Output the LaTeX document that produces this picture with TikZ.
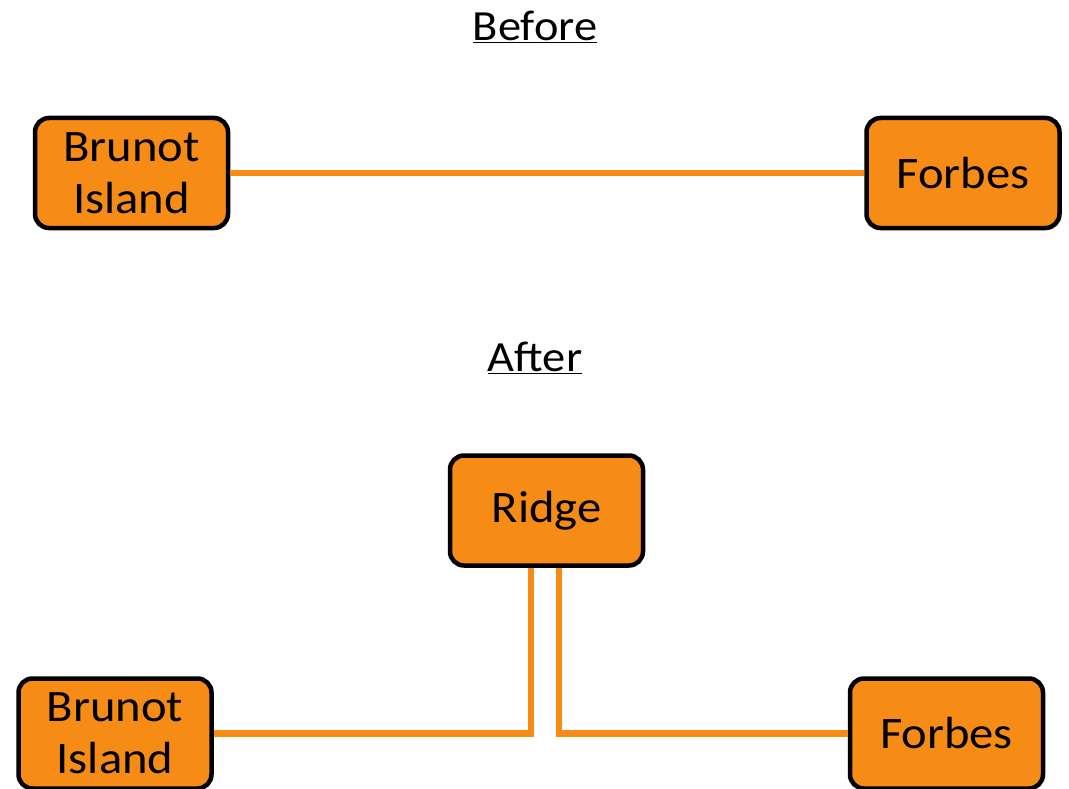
\documentclass[tikz,border=0pt]{standalone}
\usepackage{fontspec}
\setmainfont{Carlito}[FakeStretch=1.08]
\usetikzlibrary{calc}
\definecolor{boxorange}{RGB}{246,139,22}
\newcommand{\ulthick}[1]{\underline{#1}}
\tikzset{
  place/.style={draw=black, line width=4.5pt, fill=boxorange, rounded corners=14pt,
    minimum width=193pt, minimum height=110pt, inner sep=0pt, align=center,
    font=\fontsize{45}{52}\selectfont},
  oneline/.style={text depth=8pt},
  title/.style={font=\fontsize{43}{50}\selectfont, inner sep=0pt},
  link/.style={draw=boxorange, line width=6.5pt}
}
\begin{document}
\begin{tikzpicture}[x=1pt,y=-1pt]
\useasboundingbox (0,0) rectangle (1069,789);
% Before
\node[title] (tbefore) at (535,27) {\ulthick{Before}};
\node[place] (b1) at (131.5,173) {Brunot\\Island};
\node[place] (f1) at (963,173) {\raisebox{-3pt}{Forbes}};
\draw[link] (b1.east) -- (f1.west);
% After
\node[title] (tafter) at (535,358) {\ulthick{After}};
\node[place] (r) at (546.5,510.5) {\raisebox{-3pt}{Ridge}};
\node[place] (b2) at (115,733.5) {Brunot\\Island};
\node[place] (f2) at (946.5,733.5) {\raisebox{-3pt}{Forbes}};
\coordinate (cl) at ($(r.south)+(-15.5,0)$);
\coordinate (cr) at ($(r.south)+(12.5,0)$);
\draw[link] (b2.east) -- (b2.east -| cl) -- (cl);
\draw[link] (f2.west) -- (f2.west -| cr) -- (cr);
\end{tikzpicture}
\end{document}
